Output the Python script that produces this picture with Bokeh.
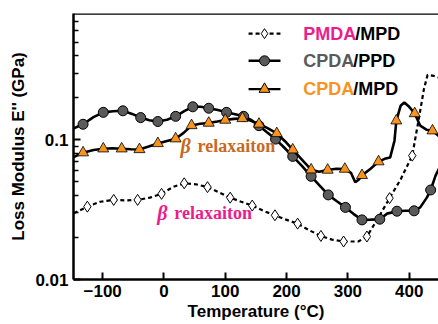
from bokeh.plotting import figure
from bokeh.models import Range1d, FixedTicker, Label, Span
from bokeh.embed import file_html
from bokeh.resources import INLINE

# ---------------- data ----------------
# PMDA/MPD (dashed line, open diamonds)
pm_line_T = [-147, -125, -104, -82, -62, -43, -23, -4, 15, 33, 52, 71, 90, 108, 126, 144, 162, 181, 199, 218,
             237, 256, 274, 293, 317, 331, 350, 368, 386, 405, 417, 424, 430, 440, 450]
pm_line_E = [0.0298, 0.0332, 0.0360, 0.0371, 0.0368, 0.0371, 0.0385, 0.0410, 0.0460, 0.0488, 0.0480, 0.0458,
             0.0420, 0.0385, 0.0360, 0.0338, 0.0310, 0.0288, 0.0268, 0.0251, 0.0225, 0.0205, 0.0193, 0.0187,
             0.0187, 0.0203, 0.0278, 0.0382, 0.0520, 0.0769, 0.1525, 0.2300, 0.2910, 0.2860, 0.2770]
pm_mark_T = [-125, -82, -43, -4, 33, 71, 108, 144, 181, 218, 256, 293, 331, 368, 405]
pm_mark_E = [0.0332, 0.0371, 0.0371, 0.0410, 0.0488, 0.0458, 0.0385, 0.0338, 0.0288, 0.0251, 0.0205, 0.0187,
             0.0203, 0.0382, 0.0769]

# CPDA/PPD (solid line, grey circles)
cp_line_T = [-148, -132, -115, -99, -83, -67, -52, -38, -24, -10, 5, 19, 33, 47, 60, 73, 88, 102, 116, 130,
             143, 155, 168, 182, 196, 210, 225, 240, 254, 268, 282, 296, 309, 323, 337, 352, 364, 380, 394,
             408, 418, 429, 435, 443, 450]
cp_line_E = [0.120, 0.129, 0.145, 0.157, 0.160, 0.161, 0.153, 0.144, 0.138, 0.135, 0.139, 0.147, 0.160, 0.172,
             0.172, 0.168, 0.163, 0.157, 0.152, 0.147, 0.138, 0.126, 0.113, 0.101, 0.088, 0.076, 0.065, 0.0547,
             0.047, 0.0403, 0.0363, 0.0328, 0.0295, 0.0267, 0.0268, 0.0270, 0.0296, 0.0308, 0.0310, 0.0310,
             0.0328, 0.0387, 0.0437, 0.0553, 0.064]
cp_mark_T = [-132, -99, -67, -38, -10, 19, 47, 73, 102, 130, 155, 182, 210, 240, 268, 296, 323, 352, 380, 408, 435]
cp_mark_E = [0.129, 0.157, 0.161, 0.144, 0.135, 0.147, 0.172, 0.168, 0.157, 0.147, 0.126, 0.101, 0.076, 0.0547,
             0.0403, 0.0328, 0.0267, 0.0270, 0.0308, 0.0310, 0.0437]

# CPDA/MPD (solid line, orange triangles)
cm_line_T = [-148, -132, -115, -99, -84, -69, -54, -40, -25, -10, 5, 19, 32, 45, 59, 73, 87, 100, 114, 128,
             141, 155, 169, 184, 197, 210, 225, 240, 253, 267, 281, 295, 305, 312, 318, 323, 337, 350, 360,
             369, 376, 379, 386, 392, 400, 409, 418, 428, 438, 450]
cm_line_E = [0.0747, 0.0808, 0.0845, 0.0862, 0.0868, 0.0862, 0.0855, 0.0852, 0.0895, 0.0941, 0.0980, 0.1017,
             0.1120, 0.1265, 0.1300, 0.1316, 0.1350, 0.1383, 0.1410, 0.1420, 0.1370, 0.1295, 0.1210, 0.1109,
             0.0980, 0.0848, 0.0720, 0.0610, 0.0590, 0.0607, 0.0620, 0.0617, 0.0580, 0.0496, 0.0520, 0.0556,
             0.0620, 0.0697, 0.0730, 0.0747, 0.0984, 0.1367, 0.1748, 0.1846, 0.1720, 0.1540, 0.1260, 0.1180,
             0.1160, 0.1050]
cm_mark_T = [-132, -99, -69, -40, -10, 19, 45, 73, 100, 128, 155, 184, 210, 240, 267, 295, 323, 350, 379, 409, 438]
cm_mark_E = [0.0808, 0.0862, 0.0862, 0.0852, 0.0941, 0.1017, 0.1265, 0.1316, 0.1383, 0.1420, 0.1295, 0.1109,
             0.0848, 0.0610, 0.0607, 0.0617, 0.0556, 0.0697, 0.1367, 0.1540, 0.1160]

x_ticks = [-100, 0, 100, 200, 300, 400]
y_ticks = [0.01, 0.1]
y_minor = [0.02, 0.03, 0.04, 0.05, 0.06, 0.07, 0.08, 0.09, 0.2, 0.3, 0.4, 0.5, 0.6, 0.7]

PINK = "#ec1c8c"
GREY = "#5a5a5a"
ORANGE = "#f7931e"
BROWN = "#c8691e"
FONT = "Liberation Sans"
SERIF = "Liberation Serif"

# ---------------- figure ----------------
p = figure(width=438, height=324, y_axis_type="log",
           x_range=Range1d(-147.6, 447.8), y_range=Range1d(0.01, 0.8),
           output_backend="svg", toolbar_location=None,
           min_border_left=73, min_border_top=13, min_border_right=0, min_border_bottom=45)
p.outline_line_color = None
p.grid.visible = False
p.background_fill_color = "white"

for ax in (p.xaxis[0], p.yaxis[0]):
    ax.axis_line_width = 2.5
    ax.axis_line_color = "black"
    ax.major_tick_line_width = 2
    ax.major_tick_line_color = "black"
    ax.major_tick_in = 7
    ax.major_tick_out = 0
    ax.minor_tick_in = 5
    ax.minor_tick_out = 0
    ax.minor_tick_line_width = 1.5
    ax.minor_tick_line_color = "black"
    ax.major_label_text_font = FONT
    ax.major_label_text_font_style = "bold"
    ax.major_label_text_font_size = "17px"
    ax.major_label_text_color = "black"
    ax.axis_label_text_font = FONT
    ax.axis_label_text_font_style = "bold"
    ax.axis_label_text_font_size = "17px"
    ax.axis_label_text_color = "black"

p.xaxis.ticker = FixedTicker(ticks=x_ticks, minor_ticks=[])
p.yaxis.ticker = FixedTicker(ticks=y_ticks, minor_ticks=y_minor)
p.yaxis.major_label_overrides = {0.01: "0.01", 0.1: "0.1"}
p.xaxis.major_label_standoff = 5
p.yaxis.major_label_standoff = 5
p.xaxis.axis_label = "Temperature (°C)"
p.yaxis.axis_label = "Loss Modulus E'' (GPa)"
p.xaxis.axis_label_standoff = 2
p.yaxis.axis_label_standoff = 4

p.add_layout(Span(location=0.8, dimension="width", line_color="black", line_width=2.5))

# ---------------- series ----------------
p.line(pm_line_T, pm_line_E, line_color="black", line_width=2.2, line_dash="4 3")
p.scatter(pm_mark_T, pm_mark_E, marker="diamond", size=11, fill_color="white", line_color="black", line_width=1)

p.line(cp_line_T, cp_line_E, line_color="black", line_width=2.6)
p.scatter(cp_mark_T, cp_mark_E, marker="circle", size=10, fill_color=GREY, line_color="black", line_width=1)

p.line(cm_line_T, cm_line_E, line_color="black", line_width=2.6)
p.scatter(cm_mark_T, cm_mark_E, marker="triangle", size=11, fill_color=ORANGE, line_color="black", line_width=0.8)

# ---------------- legend (manual, multi-coloured labels) ----------------
leg_names = [("PMDA", "/MPD", PINK), ("CPDA", "/PPD", GREY), ("CPDA", "/MPD", ORANGE)]
leg_y = [0.574, 0.367, 0.230]
leg_x0, leg_x1, leg_xm, leg_xt = 138, 190, 164, 227
leg_styles = [("4 3", "diamond", "white", 10), ("solid", "circle", GREY, 10), ("solid", "triangle", ORANGE, 11)]
pre_w = [52, 50, 50]
for (a, b, col), yy, (dash, mk, fc, sz), w in zip(leg_names, leg_y, leg_styles, pre_w):
    p.line([leg_x0, leg_x1], [yy, yy], line_color="black", line_width=2.4, line_dash=dash)
    p.scatter([leg_xm], [yy], marker=mk, size=sz, fill_color=fc, line_color="black", line_width=1)
    p.add_layout(Label(x=leg_xt, y=yy, text=a, text_color=col, text_font=FONT, text_font_style="bold",
                       text_font_size="18px", text_baseline="middle"))
    p.add_layout(Label(x=leg_xt, y=yy, x_offset=w, text=b, text_color="black", text_font=FONT,
                       text_font_style="bold", text_font_size="18px", text_baseline="middle"))

# ---------------- annotations ----------------
for bx, by, col in [(27, 0.0906, BROWN), (-11, 0.0301, PINK)]:
    p.add_layout(Label(x=bx, y=by, text="β", text_color=col, text_font=SERIF, text_font_style="bold italic",
                       text_font_size="20px", text_baseline="middle"))
    p.add_layout(Label(x=bx, y=by, x_offset=17, text="relaxaiton", text_color=col, text_font=SERIF,
                       text_font_style="bold", text_font_size="18px", text_baseline="middle"))

open("out.html", "w").write(file_html(p, INLINE))
